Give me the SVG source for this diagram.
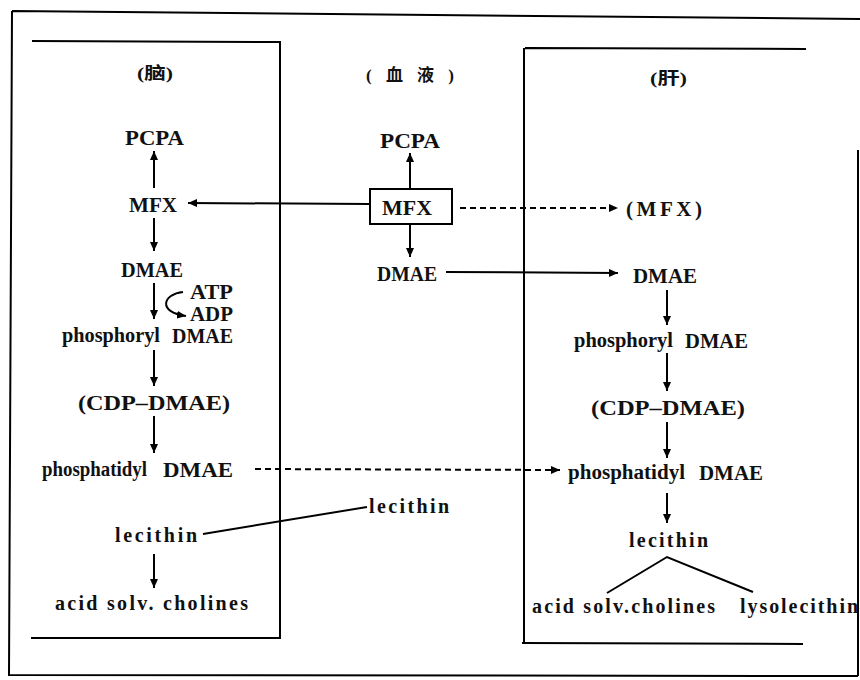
<svg xmlns="http://www.w3.org/2000/svg" width="860" height="680" viewBox="0 0 860 680">
<defs>
<marker id="ah" markerWidth="9" markerHeight="8" refX="9" refY="4" orient="auto" markerUnits="userSpaceOnUse">
<path d="M0,0 L9,4 L0,8 z" fill="#000"/>
</marker>
<style>
.t{font-family:"Liberation Serif","DejaVu Serif",serif;font-weight:bold;font-size:21px;fill:#111}
.s{font-family:"Liberation Serif","DejaVu Serif",serif;font-weight:bold;font-size:20px;fill:#111}
.c{font-family:"Liberation Serif","Noto Sans CJK SC",serif;font-weight:bold;font-size:17px;fill:#111}
.ln{stroke:#000;stroke-width:2;fill:none}
.ar{stroke:#000;stroke-width:2;fill:none;marker-end:url(#ah)}
.da{stroke:#000;stroke-width:2;fill:none;stroke-dasharray:6 4;marker-end:url(#ah)}
</style>
</defs>
<rect width="860" height="680" fill="#fff"/>
<g id="frames">
<path class="ln" d="M12,11 L860,19 M12,11 L9,675 L858,676 M858,150 L858,676" stroke-width="2.5"/>
<path class="ln" d="M32,41 L280,42 L280,639 M31,638 L279,638"/>
<path class="ln" d="M525,48 L806,49 M524,48 L524,643 M522,643 L803,644"/>
</g>
<g id="brain-label"><text class="c" x="137" y="79" textLength="36" lengthAdjust="spacingAndGlyphs">(脑)</text></g>
<g id="blood-label"><text class="c" x="366" y="81" textLength="88" lengthAdjust="spacing">( 血  液 )</text></g>
<g id="liver-label"><text class="c" x="650" y="84" textLength="37" lengthAdjust="spacingAndGlyphs">(肝)</text></g>

<g id="b-pcpa"><text class="t" x="125" y="145" textLength="59" lengthAdjust="spacingAndGlyphs">PCPA</text></g>
<g id="b-mfx"><text class="t" x="129" y="212" textLength="48" lengthAdjust="spacingAndGlyphs">MFX</text></g>
<g id="b-dmae"><text class="t" x="121" y="277" textLength="62" lengthAdjust="spacingAndGlyphs">DMAE</text></g>
<g id="b-atp"><text class="t" x="190" y="299" font-size="18" textLength="43" lengthAdjust="spacingAndGlyphs">ATP</text></g>
<g id="b-adp"><text class="t" x="190" y="321" font-size="18" textLength="43" lengthAdjust="spacingAndGlyphs">ADP</text></g>
<g id="b-phosphoryl"><text class="s" x="62" y="342" textLength="98" lengthAdjust="spacingAndGlyphs">phosphoryl</text><text class="t" x="172" y="343" textLength="61" lengthAdjust="spacingAndGlyphs">DMAE</text></g>
<g id="b-cdp"><text class="t" x="78" y="410" textLength="152" lengthAdjust="spacingAndGlyphs">(CDP–DMAE)</text></g>
<g id="b-phosphatidyl"><text class="s" x="42" y="476" textLength="105" lengthAdjust="spacingAndGlyphs">phosphatidyl</text><text class="t" x="163" y="477" textLength="70" lengthAdjust="spacingAndGlyphs">DMAE</text></g>
<g id="b-lecithin"><text class="s" x="115" y="542" textLength="82" lengthAdjust="spacing">lecithin</text></g>
<g id="b-acid"><text class="s" x="55" y="610" textLength="193" lengthAdjust="spacing">acid solv. cholines</text></g>

<g id="m-pcpa"><text class="t" x="380" y="148" textLength="60" lengthAdjust="spacingAndGlyphs">PCPA</text></g>
<g id="m-mfx"><rect x="370" y="189" width="82" height="35" fill="none" stroke="#000" stroke-width="2"/><text class="t" x="382" y="215" textLength="50" lengthAdjust="spacingAndGlyphs">MFX</text></g>
<g id="m-dmae"><text class="t" x="377" y="281" textLength="60" lengthAdjust="spacingAndGlyphs">DMAE</text></g>
<g id="m-lecithin"><text class="s" x="369" y="513" textLength="80" lengthAdjust="spacing">lecithin</text></g>

<g id="l-mfx"><text class="t" x="626" y="216" textLength="76" lengthAdjust="spacing">(MFX)</text></g>
<g id="l-dmae"><text class="t" x="633" y="283" textLength="64" lengthAdjust="spacingAndGlyphs">DMAE</text></g>
<g id="l-phosphoryl"><text class="s" x="574" y="347" textLength="99" lengthAdjust="spacingAndGlyphs">phosphoryl</text><text class="t" x="685" y="348" textLength="63" lengthAdjust="spacingAndGlyphs">DMAE</text></g>
<g id="l-cdp"><text class="t" x="591" y="415" textLength="154" lengthAdjust="spacingAndGlyphs">(CDP–DMAE)</text></g>
<g id="l-phosphatidyl"><text class="s" x="568" y="479" textLength="117" lengthAdjust="spacingAndGlyphs">phosphatidyl</text><text class="t" x="699" y="480" textLength="64" lengthAdjust="spacingAndGlyphs">DMAE</text></g>
<g id="l-lecithin"><text class="s" x="629" y="547" textLength="79" lengthAdjust="spacing">lecithin</text></g>
<g id="l-acid"><text class="s" x="532" y="613" textLength="183" lengthAdjust="spacing">acid solv.cholines</text></g>
<g id="l-lyso"><text class="s" x="740" y="613" textLength="118" lengthAdjust="spacing">lysolecithin</text></g>

<g id="connectors">
<path class="ar" d="M154,188 L154,151"/>
<path class="ar" d="M154,218 L154,251"/>
<path class="ar" d="M154,283 L154,319"/>
<path class="ar" d="M183,292 C163,294 157,312 186,316"/>
<path class="ar" d="M154,350 L154,386"/>
<path class="ar" d="M154,416 L154,453"/>
<path class="ar" d="M154,554 L154,588"/>
<path class="ln" d="M203,534 L367,507"/>
<path class="da" d="M255,469 L560,470"/>
<path class="ar" d="M410,189 L410,153"/>
<path class="ar" d="M410,224 L410,257"/>
<path class="ar" d="M369,204 L188,203"/>
<path class="da" d="M460,208 L618,208"/>
<path class="ar" d="M446,272 L618,273"/>
<path class="ar" d="M667,290 L667,325"/>
<path class="ar" d="M667,353 L667,391"/>
<path class="ar" d="M667,422 L667,458"/>
<path class="ar" d="M667,493 L667,523"/>
<path class="ln" d="M607,593 L667,557 L753,592"/>
</g>
</svg>
